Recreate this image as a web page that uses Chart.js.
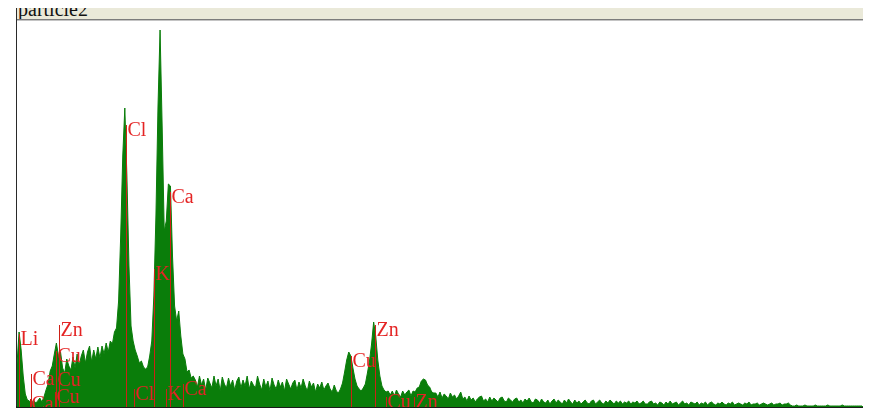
<!DOCTYPE html>
<html>
<head>
<meta charset="utf-8">
<script src="https://cdn.jsdelivr.net/npm/chart.js"></script>
<style>
  html, body { margin: 0; padding: 0; background: #ffffff; }
  body { width: 870px; height: 409px; position: relative; overflow: hidden; }
  #titlebar {
    position: absolute; left: 16px; top: 8px; width: 847px; height: 11px;
    background: #eae9d9; border-bottom: 1px solid #7c7c7c; overflow: hidden;
  }
  #titlebar span {
    position: absolute; left: 2px; top: -9px;
    font-family: "Liberation Serif", "DejaVu Serif", serif;
    font-size: 20px; line-height: 20px; color: #111;
  }
  #shade { position: absolute; left: 16px; top: 20px; width: 847px; height: 1px; background: #c4c4c4; }
  #leftrule { position: absolute; left: 16px; top: 8px; width: 1px; height: 400px; background: #2a2a2a; }
  #baserule { position: absolute; left: 16px; top: 406px; width: 847px; height: 2px; background: #1a1a1a; }
  #spec { position: absolute; left: 17px; top: 20px; }
  #rightpane { position: absolute; left: 862px; top: 21px; width: 8px; height: 385px; background: #ffffff; }
</style>
</head>
<body>
<div id="titlebar"><span>particle2</span></div>
<div id="shade"></div>
<div id="leftrule"></div>
<div id="baserule"></div>
<canvas id="spec" width="846" height="387"></canvas>
<div id="rightpane"></div>
<script>
// Channel width of the spectrum, keV
const channelKeV = 0.05;
const energyMax = 20.4;

// Counts per channel, 0.00 - 4.25 keV (Li, L lines, Cl / K / Ca K lines)
const countsLow = [
  420, 740, 560, 300, 120, 60, 50, 20, 60, 30,
  50, 80, 40, 90, 160, 220, 350, 400, 520, 630,
  500, 540, 380, 330, 470, 400, 360, 490, 380, 520,
  410, 500, 560, 430, 540, 600, 440, 560, 470, 590,
  480, 600, 520, 630, 540, 650, 620, 740, 780, 1050,
  1700, 2500, 2980, 2300, 1400, 800, 650, 560, 500, 430,
  450, 390, 370, 390, 500, 650, 1100, 1900, 3000, 3760,
  2800, 1750, 1850, 2220, 2200, 1500, 1000, 850, 950, 700,
  520, 470, 340, 360, 280, 300
];

// Counts per channel, 4.30 - 7.75 keV (background)
const countsMid = [
  260, 190, 300, 210, 270, 160, 280, 230, 180, 300,
  200, 270, 150, 290, 220, 180, 280, 200, 260, 160,
  250, 290, 180, 260, 200, 300, 170, 250, 210, 180,
  300, 220, 160, 270, 190, 250, 150, 280, 210, 170,
  260, 190, 240, 150, 270, 220, 170, 230, 260, 160,
  240, 180, 270, 200, 150, 250, 190, 230, 140, 220,
  180, 240, 160, 200, 230, 170, 140, 210, 150, 130
];

// Counts per channel, 7.80 - 10.75 keV (Cu / Zn K lines)
const countsCuZn = [
  170, 230, 340, 460, 540, 500, 380, 270, 200, 170,
  150, 180, 220, 330, 450, 620, 840, 700, 460, 300,
  200, 160, 140,
  150, 110, 150, 100, 160, 120, 90, 150, 110, 140,
  160, 100, 150,
  140, 180, 190, 250, 270, 260, 210, 190, 140, 130,
  130, 90, 140, 80, 120, 100, 70, 130, 90, 110,
  70, 100, 140, 70
];

// Counts per channel, 10.80 - 20.40 keV (high-energy tail)
const countsHigh = [
  90, 50, 100, 60, 80, 40, 70, 90, 100, 50,
  70, 40, 90, 50, 80, 60, 40, 80, 90, 50,
  40, 80, 60, 40, 70, 80, 40, 60, 30, 70,
  50, 80, 40, 30, 70,
  60, 30, 70, 40, 30, 60, 20, 50, 70, 30,
  60, 40, 20, 60, 30, 70, 40, 20, 60, 30,
  50, 20, 40, 60, 30, 20, 50, 60, 20, 40,
  60, 30, 20, 50, 30, 60, 40, 20, 50, 30,
  50, 20, 40, 30, 50, 20, 40, 30, 50, 20,
  30, 50, 20, 20, 40, 50, 20, 30, 10, 40,
  30, 10, 40, 20, 50, 20, 30, 40, 10, 30,
  50, 20, 30, 10, 40, 30, 20, 40, 10, 30,
  20, 40, 10, 30, 40, 20, 10, 30, 20, 40,
  20, 10, 30, 20, 40, 10, 20, 30, 20, 10,
  30, 20, 40, 10, 20, 20, 30, 10, 20, 30,
  20, 10, 20, 30, 10, 20, 20, 30, 10, 20,
  20, 30,
  10, 0, 0, 10, 0, 0, 0, 10, 0, 0,
  0, 0, 10, 0, 0, 0, 0, 0, 10, 0,
  0, 0, 0, 0, 0, 10, 0, 0, 0, 0,
  0, 0, 0, 0, 0, 0
];

// Element line markers: symbol, line energy (keV), marker height (counts)
const lineLabels   = ['Li', 'Ca', 'Ca', 'Cu', 'Cu', 'Cu', 'Zn', 'Cl', 'Cl', 'K', 'K', 'Ca', 'Ca', 'Cu', 'Zn', 'Cu', 'Zn'];
const lineEnergies = [0.054, 0.302, 0.341, 0.930, 0.950, 0.910, 1.012, 2.622, 2.816, 3.313, 3.590, 3.691, 4.013, 8.047, 8.638, 8.905, 9.572];
const lineHeights  = [740, 90, 340, 570, 330, 160, 830, 2830, 190, 1390, 190, 2160, 240, 520, 830, 110, 110];

const counts = countsLow.concat(countsMid, countsCuZn, countsHigh);
const points = counts.map((c, i) => ({ x: i * channelKeV, y: c }));

const elementMarkers = {
  id: 'elementMarkers',
  afterDatasetsDraw(chart) {
    const ctx = chart.ctx;
    const xs = chart.scales.x, ys = chart.scales.y;
    const bottom = chart.chartArea.bottom;
    ctx.save();
    lineLabels.forEach((name, k) => {
      const px = Math.round(xs.getPixelForValue(lineEnergies[k])) + 0.5;
      const top = ys.getPixelForValue(lineHeights[k]);
      ctx.strokeStyle = 'rgb(205,32,22)';
      ctx.lineWidth = 1;
      ctx.beginPath();
      ctx.moveTo(px, top + 2);
      ctx.lineTo(px, bottom);
      ctx.stroke();
      ctx.fillStyle = 'rgb(228,36,36)';
      ctx.font = '20px "Liberation Serif", "DejaVu Serif", serif';
      ctx.textBaseline = 'alphabetic';
      ctx.textAlign = 'left';
      ctx.fillText(name, px + 1, top + 13);
    });
    ctx.restore();
  }
};

new Chart(document.getElementById('spec'), {
  type: 'line',
  data: {
    datasets: [{
      data: points,
      borderColor: '#0a7d0a',
      backgroundColor: '#0a7d0a',
      borderWidth: 1,
      pointRadius: 0,
      tension: 0,
      fill: 'start'
    }]
  },
  options: {
    responsive: false,
    animation: false,
    layout: { padding: 0 },
    scales: {
      x: { type: 'linear', min: 0, max: energyMax, display: false },
      y: { type: 'linear', min: -10, max: 3860, display: false }
    },
    plugins: {
      legend: { display: false },
      tooltip: { enabled: false },
      title: { display: false }
    }
  },
  plugins: [elementMarkers]
});
</script>
</body>
</html>
